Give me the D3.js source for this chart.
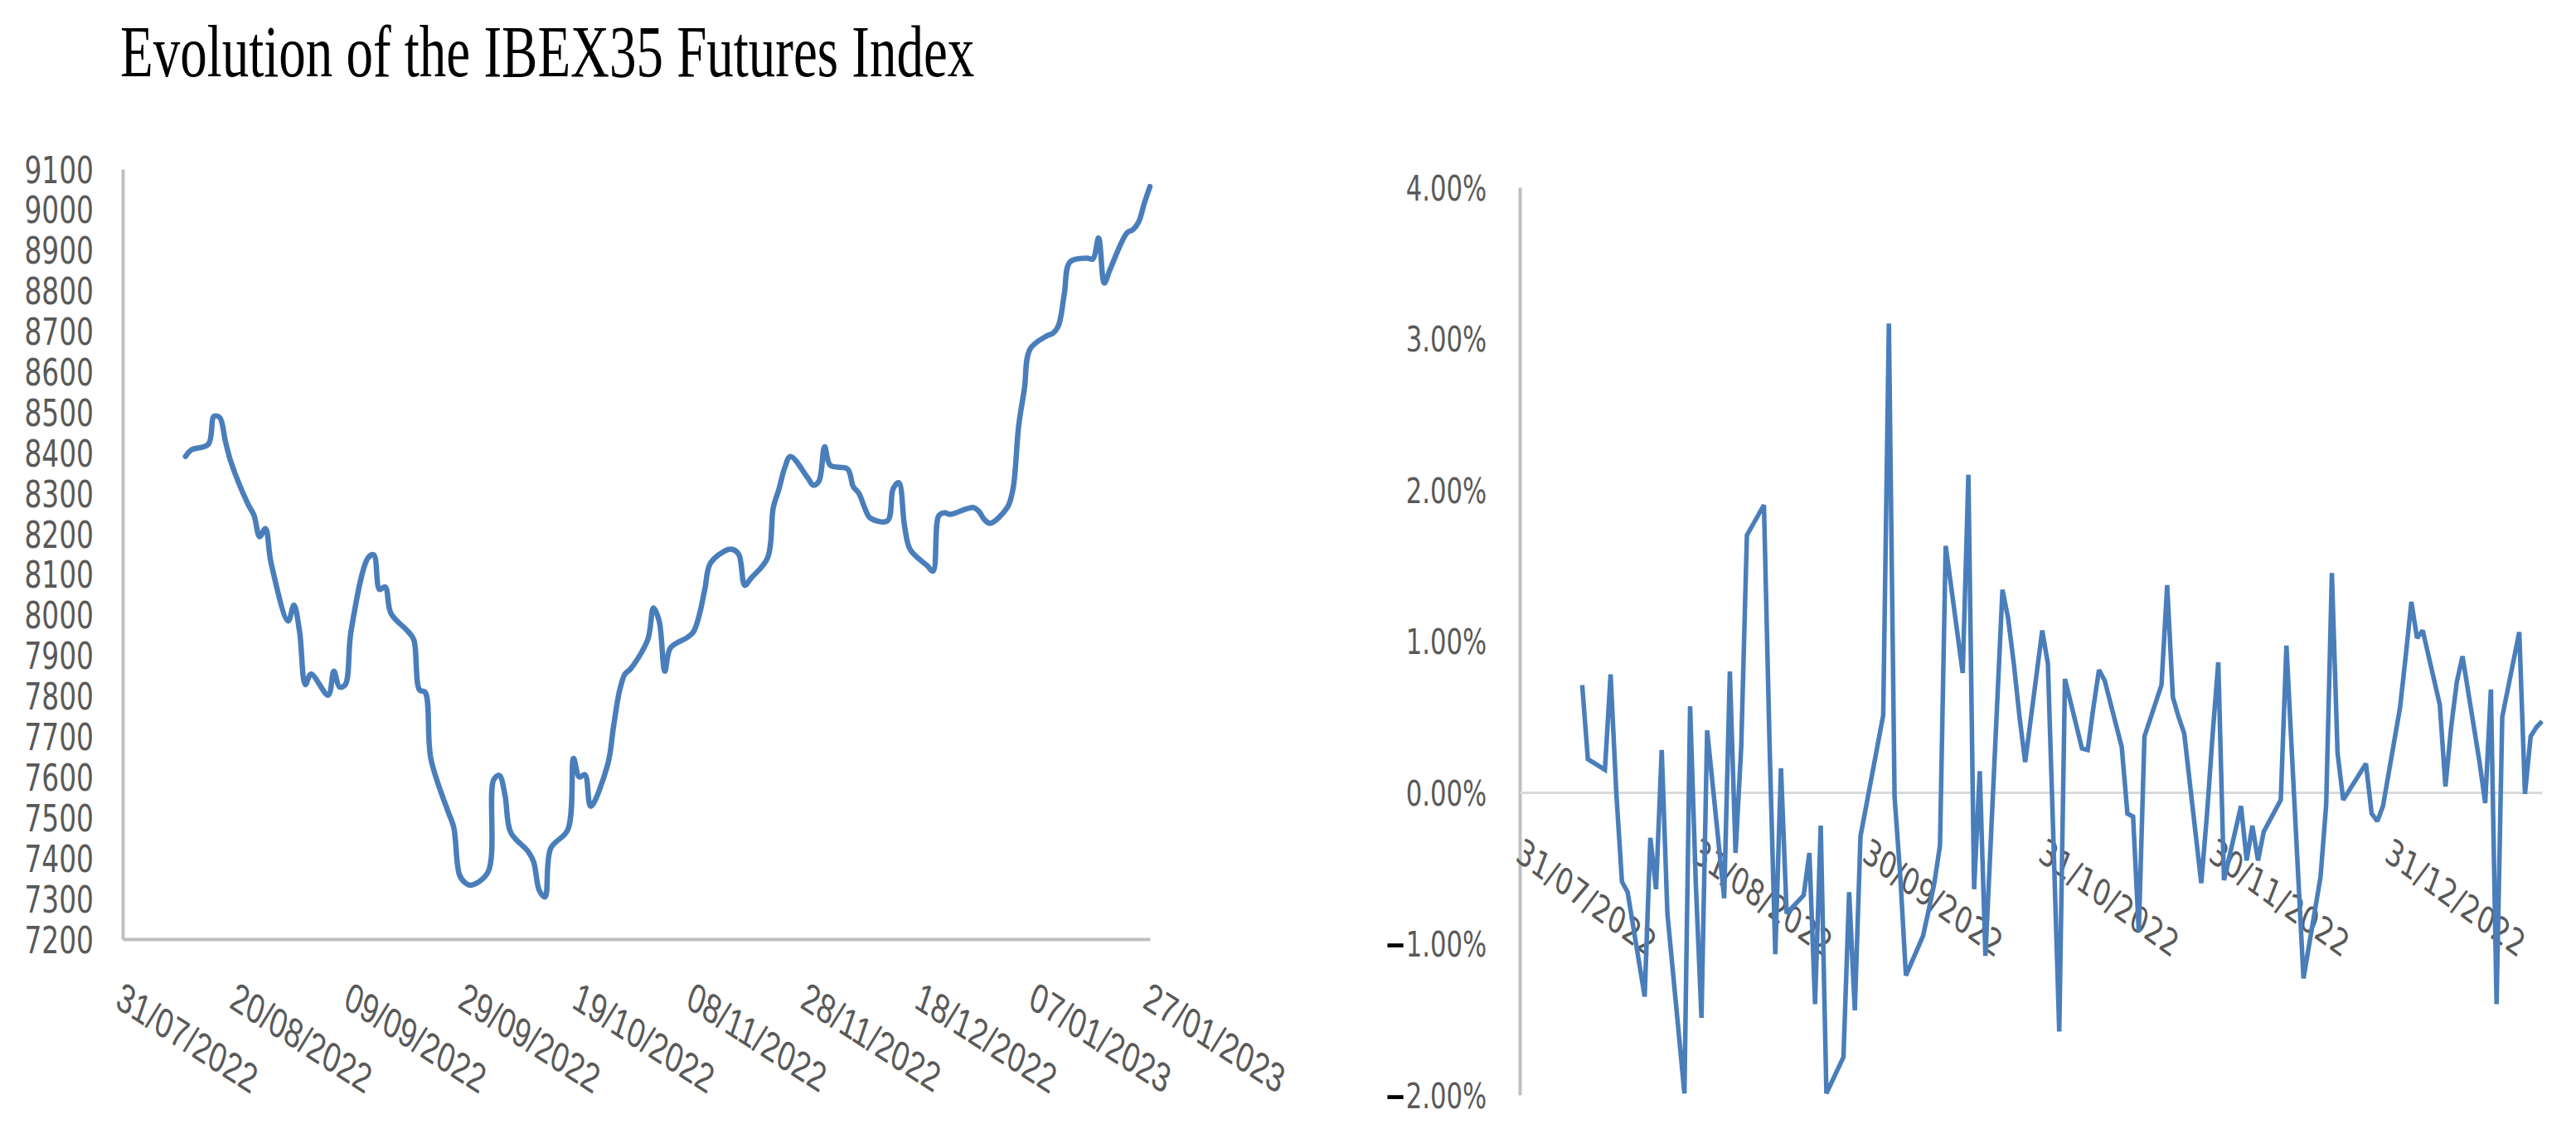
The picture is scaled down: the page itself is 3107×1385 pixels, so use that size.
<!DOCTYPE html>
<html><head><meta charset="utf-8">
<script src="https://cdn.jsdelivr.net/npm/d3@7/dist/d3.min.js"></script>
<style>body{margin:0;background:#fff}</style>
</head><body>
<svg id="c" width="3107" height="1385" xmlns="http://www.w3.org/2000/svg"></svg>
<script>
const chartTitle = "Evolution of the IBEX35 Futures Index";

const dates = [
"2022-08-11","2022-08-12","2022-08-15","2022-08-16","2022-08-17","2022-08-18","2022-08-19","2022-08-22","2022-08-23","2022-08-24","2022-08-25","2022-08-26","2022-08-29","2022-08-30","2022-08-31",
"2022-09-01","2022-09-02","2022-09-05","2022-09-06","2022-09-07","2022-09-08","2022-09-09","2022-09-12","2022-09-13","2022-09-14","2022-09-15","2022-09-16","2022-09-19","2022-09-20","2022-09-21","2022-09-22","2022-09-23","2022-09-26","2022-09-27","2022-09-28","2022-09-29","2022-09-30",
"2022-10-03","2022-10-04","2022-10-05","2022-10-06","2022-10-07","2022-10-10","2022-10-11","2022-10-12","2022-10-13","2022-10-14","2022-10-17","2022-10-18","2022-10-19","2022-10-20","2022-10-21","2022-10-24","2022-10-25","2022-10-26","2022-10-27","2022-10-28","2022-10-31",
"2022-11-01","2022-11-02","2022-11-03","2022-11-04","2022-11-07","2022-11-08","2022-11-09","2022-11-10","2022-11-11","2022-11-14","2022-11-15","2022-11-16","2022-11-17","2022-11-18","2022-11-21","2022-11-22","2022-11-23","2022-11-24","2022-11-25","2022-11-28","2022-11-29","2022-11-30",
"2022-12-01","2022-12-02","2022-12-05","2022-12-06","2022-12-07","2022-12-08","2022-12-09","2022-12-12","2022-12-13","2022-12-14","2022-12-15","2022-12-16","2022-12-19","2022-12-20","2022-12-21","2022-12-22","2022-12-23","2022-12-27","2022-12-28","2022-12-29","2022-12-30",
"2023-01-02","2023-01-03","2023-01-04","2023-01-05","2023-01-06","2023-01-09","2023-01-10","2023-01-11","2023-01-12","2023-01-13","2023-01-16","2023-01-17","2023-01-18","2023-01-19","2023-01-20","2023-01-23","2023-01-24","2023-01-25","2023-01-26","2023-01-27"
];

const indexValues = [
8391,8407,8421,8490,8487,8428,8376,8272,8246,8193,8213,8128,7985,8024,7958,
7828,7854,7802,7861,7822,7828,7959,8141,8148,8063,8069,8004,7959,7939,7815,7809,7645,7515,7476,7359,7339,7333,
7365,7593,7604,7554,7463,7417,7391,7320,7304,7424,7470,7646,7600,7606,7528,7632,7724,7809,7854,7867,7939,
8017,7985,7861,7919,7945,7958,7998,8063,8128,8161,8161,8148,8073,8089,8141,8265,8311,8363,8391,8339,8320,8330,
8415,8369,8360,8317,8300,8265,8239,8232,8311,8326,8219,8161,8121,8108,8245,8252,8248,8265,8256,8235,8226,
8265,8311,8467,8558,8656,8689,8695,8715,8793,8871,8880,8878,8930,8819,8852,8943,8950,8969,9015,9057
];

const returnsPct = [
0.71,0.22,0.15,0.78,0.0,-0.59,-0.66,-1.35,-0.30,-0.64,0.28,-0.8,-1.99,0.57,-0.6,
-1.49,0.41,-0.70,0.80,-0.40,0.3,1.70,1.90,0.3,-1.07,0.16,-0.80,-0.68,-0.40,-1.40,-0.22,-1.99,-1.75,-0.66,-1.44,-0.29,-0.09,
0.51,3.10,-0.03,-0.55,-1.21,-0.95,-0.78,-0.60,-0.35,1.63,0.79,2.10,-0.64,0.14,-1.08,1.34,1.15,0.85,0.5,0.20,1.07,
0.85,-0.35,-1.58,0.75,0.29,0.28,0.56,0.81,0.74,0.30,-0.14,-0.16,-0.92,0.37,0.71,1.37,0.63,0.50,0.39,-0.60,-0.15,0.38,
0.86,-0.58,-0.09,-0.45,-0.22,-0.45,-0.26,-0.05,0.97,0.23,-0.5,-1.23,-0.56,-0.08,1.45,0.26,-0.05,0.19,-0.14,-0.19,-0.09,
0.56,0.9,1.26,1.02,1.07,0.58,0.04,0.43,0.73,0.90,0.2,-0.07,0.68,-1.40,0.50,1.06,-0.01,0.37,0.43,0.47
];

const axisStart = "31/07/2022";
const axisEnd = "27/01/2023";
const leftYTicks = [7200,7300,7400,7500,7600,7700,7800,7900,8000,8100,8200,8300,8400,8500,8600,8700,8800,8900,9000,9100];
const leftXTickLabels = ["31/07/2022","20/08/2022","09/09/2022","29/09/2022","19/10/2022","08/11/2022","28/11/2022","18/12/2022","07/01/2023","27/01/2023"];
const rightYTicks = [-0.02,-0.01,0,0.01,0.02,0.03,0.04];
const rightXTickLabels = ["31/07/2022","31/08/2022","30/09/2022","31/10/2022","30/11/2022","31/12/2022"];

const parseISO = d3.utcParse("%Y-%m-%d");
const parseDMY = d3.utcParse("%d/%m/%Y");
const fmtDMY = d3.utcFormat("%d/%m/%Y");

const svg = d3.select("#c");
const SQ = 0.73;
const LINE = "#4a7ebb";
const AXIS = "#bfbfbf";
const LABEL = "#595959";

// Title
svg.append("text")
  .attr("transform", `translate(145,92) scale(${SQ},1)`)
  .attr("font-family", "'Liberation Serif','Times New Roman',serif")
  .attr("font-size", 89)
  .attr("fill", "#000")
  .text(chartTitle);

const series = dates.map((d, i) => ({date: parseISO(d), idx: indexValues[i], ret: returnsPct[i] / 100}));

// ---------- Left chart ----------
const xL = d3.scaleUtc().domain([parseDMY(axisStart), parseDMY(axisEnd)]).range([148, 1387]);
const yL = d3.scaleLinear().domain([7200, 9100]).range([1133, 204]);

const gLY = svg.append("g").attr("transform", "translate(148,0)")
  .call(d3.axisLeft(yL).tickValues(leftYTicks).tickSize(0).tickSizeOuter(0).tickFormat(d3.format("d")));
gLY.select(".domain").attr("stroke", AXIS).attr("stroke-width", 4);
gLY.selectAll(".tick text")
  .attr("x", null).attr("dy", null)
  .attr("transform", `translate(-35,16) scale(${SQ},1)`)
  .attr("font-family", "'DejaVu Sans',Verdana,sans-serif")
  .attr("font-size", 45).attr("fill", LABEL).attr("text-anchor", "end");

const gLX = svg.append("g").attr("transform", "translate(0,1133)")
  .call(d3.axisBottom(xL).tickValues(leftXTickLabels.map(parseDMY)).tickSize(0).tickSizeOuter(0).tickFormat(fmtDMY));
gLX.select(".domain").attr("stroke", AXIS).attr("stroke-width", 4);
gLX.selectAll(".tick text")
  .attr("y", null).attr("dy", null)
  .attr("transform", `translate(0,50) scale(${SQ},1) rotate(25) translate(0,35)`)
  .attr("font-family", "'Liberation Sans',Arial,sans-serif")
  .attr("font-size", 50).attr("fill", LABEL).attr("text-anchor", "start");

svg.append("path").datum(series)
  .attr("fill", "none").attr("stroke", LINE).attr("stroke-width", 6.5)
  .attr("stroke-linejoin", "round").attr("stroke-linecap", "round")
  .attr("d", d3.line().x(d => xL(d.date)).y(d => yL(d.idx)).curve(d3.curveCatmullRom.alpha(0.5)));

// ---------- Right chart ----------
const xR = d3.scaleUtc().domain([parseDMY(axisStart), parseDMY(axisEnd)]).range([1833, 3066]);
const yR = d3.scaleLinear().domain([-0.02, 0.04]).range([1321, 226]);

const gRY = svg.append("g").attr("transform", "translate(1833,0)")
  .call(d3.axisLeft(yR).tickValues(rightYTicks).tickSize(0).tickSizeOuter(0).tickFormat(d => d3.format(".2%")(Math.abs(d))));
gRY.select(".domain").attr("stroke", AXIS).attr("stroke-width", 4);
gRY.selectAll(".tick text")
  .attr("x", null).attr("dy", null)
  .attr("transform", `translate(-40,15) scale(${SQ},1)`)
  .attr("font-family", "'DejaVu Sans',Verdana,sans-serif")
  .attr("font-size", 42).attr("fill", LABEL).attr("text-anchor", "end")
  .each(function(d) {
    if (d < 0) {
      const t = d3.select(this);
      const s = t.text();
      t.text(null);
      t.append("tspan").attr("fill", "#000").attr("font-weight", "bold").text("\u2212");
      t.append("tspan").text(s);
    }
  });

const gRX = svg.append("g").attr("transform", `translate(0,${yR(0)})`)
  .call(d3.axisBottom(xR).tickValues(rightXTickLabels.map(parseDMY)).tickSize(0).tickSizeOuter(0).tickFormat(fmtDMY));
gRX.select(".domain").attr("stroke", "#d9d9d9").attr("stroke-width", 3);
gRX.selectAll(".tick text")
  .attr("y", null).attr("dy", null)
  .attr("transform", `translate(4,53) scale(${SQ},1) rotate(28) translate(0,32)`)
  .attr("font-family", "'DejaVu Sans',Verdana,sans-serif")
  .attr("font-size", 44).attr("fill", LABEL).attr("text-anchor", "start");

svg.append("path").datum(series)
  .attr("fill", "none").attr("stroke", LINE).attr("stroke-width", 5.5)
  .attr("stroke-linejoin", "miter").attr("stroke-miterlimit", 2)
  .attr("d", d3.line().x(d => xR(d.date)).y(d => yR(d.ret)));
</script>
</body></html>
